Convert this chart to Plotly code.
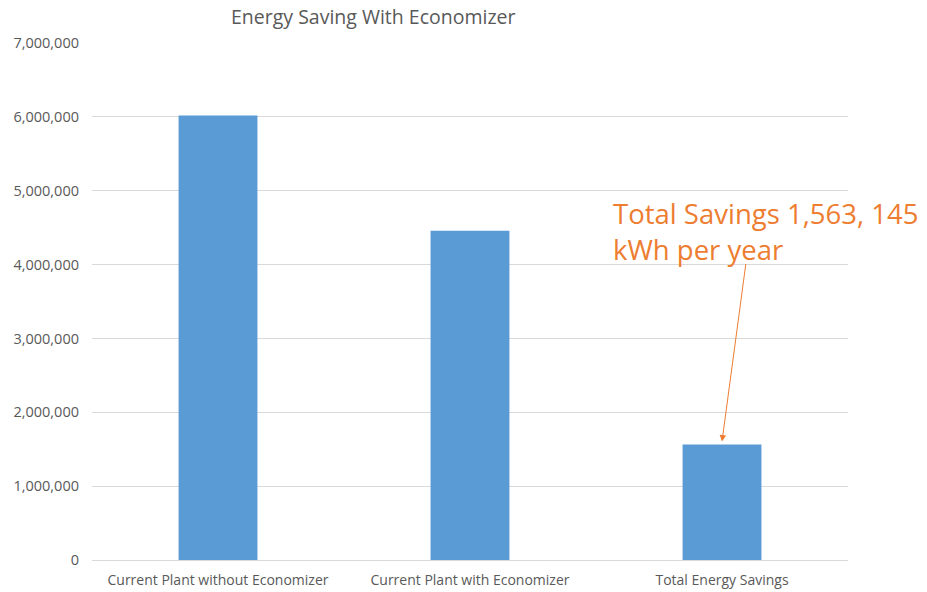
import plotly.graph_objects as go

categories = ["Current Plant without Economizer", "Current Plant with Economizer", "Total Energy Savings"]
energy_kwh = [6020000, 4457000, 1563145]
y_ticks = [0, 1000000, 2000000, 3000000, 4000000, 5000000, 6000000, 7000000]
y_tick_labels = ["0", "1,000,000", "2,000,000", "3,000,000", "4,000,000", "5,000,000", "6,000,000", "7,000,000"]
title_text = "Energy Saving With Economizer"
callout_text = "Total Savings 1,563, 145<br>kWh per year"

FONT = "Open Sans"
W, H = 927, 592

fig = go.Figure()
fig.add_trace(go.Bar(
    x=categories, y=energy_kwh,
    marker=dict(color="#5B9BD5", line=dict(width=0)),
    width=0.313,
))

fig.update_layout(
    width=W, height=H,
    margin=dict(l=92, r=79, t=43, b=32),
    plot_bgcolor="white", paper_bgcolor="white",
    showlegend=False,
    font=dict(family=FONT, color="#595959"),
)
fig.update_xaxes(
    showgrid=False, showline=False, zeroline=False, automargin=False,
    tickfont=dict(size=14, color="#595959", family=FONT),
    ticklabelstandoff=10,
)
fig.update_yaxes(
    range=[0, 7000000], tickvals=y_ticks, ticktext=y_tick_labels,
    showgrid=True, gridcolor="#D9D9D9", gridwidth=1,
    zeroline=True, zerolinecolor="#D9D9D9", zerolinewidth=1,
    showline=False, automargin=False,
    tickfont=dict(size=14.5, color="#595959", family=FONT),
    ticklabelstandoff=12,
)

# chart title
fig.add_annotation(
    x=(373-92)/756, y=1, xref="paper", yref="paper",
    xanchor="center", yanchor="bottom", yshift=11,
    text=title_text, showarrow=False,
    font=dict(size=19.5, color="#595959", family=FONT),
)

# arrow from callout to the savings bar
fig.add_annotation(
    x=categories[2], y=energy_kwh[2], yshift=3,
    xref="x", yref="y",
    text="", showarrow=True,
    ax=24, ay=-179,
    arrowhead=2, arrowsize=1.3, arrowwidth=1, arrowcolor="#ED7D31",
)
fig.add_annotation(
    x=(611-92)/756, y=(560-193)/517, xref="paper", yref="paper",
    xanchor="left", yanchor="top", align="left",
    text=callout_text, showarrow=False,
    font=dict(size=27.5, color="#ED7D31", family=FONT),
)

fig.write_html("out.html", config={"displayModeBar": False},
               post_script="document.body.style.margin='0';")
